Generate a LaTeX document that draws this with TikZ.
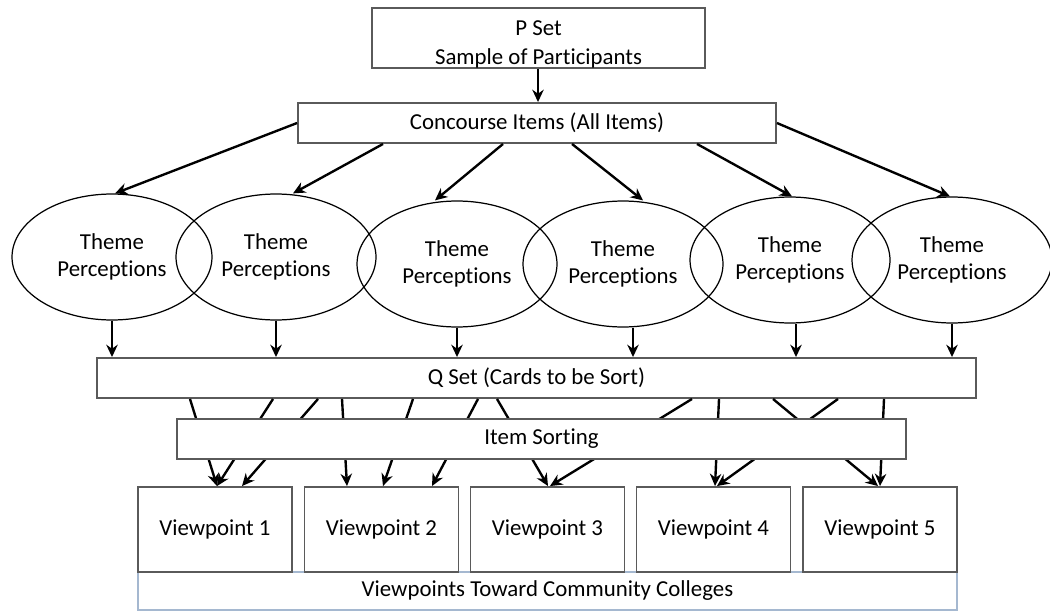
\documentclass[tikz,border=0pt]{standalone}
\usepackage{fontspec}
\setmainfont{Carlito}[Ligatures=NoCommon]
\usetikzlibrary{arrows.meta,shapes.geometric}
\definecolor{boxline}{RGB}{90,90,90}
\definecolor{baseline}{RGB}{165,184,208}
\begin{document}
\begin{tikzpicture}[x=0.02cm,y=-0.02cm,
        box/.style={draw=boxline,line width=1.1pt,fill=white,inner sep=0pt,
            font=\fontsize{13}{15.5}\selectfont,align=center},
        theme/.style={ellipse,draw=black,line width=0.7pt,inner sep=0pt,minimum width=4cm,
            minimum height=2.52cm,font=\fontsize{13}{15.5}\selectfont,align=center},
        arr/.style={-{Stealth[length=7pt,width=6.5pt]},line width=1.35pt}]
            \useasboundingbox (0,0) rectangle (1050,612);
            \node[box,minimum width=6.66cm,minimum height=1.2cm] (pset) at (538.5,38) {\rule{0pt}{13.8pt}P Set\\[1pt]\smash{Sample of Participants}};
            \node[box,minimum width=9.56cm,minimum height=0.8cm] (conc) at (537,123) {Concourse Items (All Items)};
            \draw[arr] (pset.south -| 538,0) -- (conc.north -| 538,0);
            \node[theme] (th1) at (112,257) {Theme\\Perceptions};
            \node[theme] (th2) at (276,257) {Theme\\Perceptions};
            \node[theme] (th3) at (457,264) {Theme\\Perceptions};
            \node[theme] (th4) at (623,264) {Theme\\Perceptions};
            \node[theme] (th5) at (790,260) {Theme\\Perceptions};
            \node[theme] (th6) at (952,260) {Theme\\Perceptions};
            \draw[arr] (conc.west) -- (th1.north -| 115,0);
            \draw[arr] (conc.south -| 383,0) -- (th2.north -| 293,0);
            \draw[arr] (conc.south -| 503,0) -- (th3.north -| 435,0);
            \draw[arr] (conc.south -| 572,0) -- (th4.north -| 643,0);
            \draw[arr] (conc.south -| 697,0) -- (th5.north -| 792,0);
            \draw[arr] (conc.east) -- (th6.north -| 950,0);
            \node[box,minimum width=17.58cm,minimum height=0.8cm] (qset) at (536.5,378) {Q Set (Cards to be Sort)};
            \draw[arr] (th1.south) -- (qset.north -| th1.south);
            \draw[arr] (th2.south) -- (qset.north -| th2.south);
            \draw[arr] (th3.south) -- (qset.north -| th3.south);
            \draw[arr] (th4.south -| 633,0) -- (qset.north -| 633,0);
            \draw[arr] (th5.south -| 796,0) -- (qset.north -| 796,0);
            \draw[arr] (th6.south) -- (qset.north -| th6.south);
            \node[box,draw=baseline,line width=0.8pt,minimum width=16.38cm,minimum height=0.76cm] (vpall) at (547.5,591) {Viewpoints Toward Community Colleges};
            \node[box,minimum width=3.08cm,minimum height=1.7cm] (vp1) at (215,529.5) {Viewpoint 1};
            \node[box,minimum width=3.08cm,minimum height=1.7cm] (vp2) at (381.5,529.5) {Viewpoint 2};
            \node[box,minimum width=3.08cm,minimum height=1.7cm] (vp3) at (547.5,529.5) {Viewpoint 3};
            \node[box,minimum width=3.08cm,minimum height=1.7cm] (vp4) at (713.5,529.5) {Viewpoint 4};
            \node[box,minimum width=3.08cm,minimum height=1.7cm] (vp5) at (880,529.5) {Viewpoint 5};
            \draw[arr] (qset.south -| 190,0) -- (vp1.north -| 217,0);
            \draw[arr] (qset.south -| 273,0) -- (vp1.north -| 217,0);
            \draw[arr] (qset.south -| 318,0) -- (vp1.north -| 242,0);
            \draw[arr] (qset.south -| 342,0) -- (vp2.north -| 347,0);
            \draw[arr] (qset.south -| 413,0) -- (vp2.north -| 383,0);
            \draw[arr] (qset.south -| 478,0) -- (vp2.north -| 432,0);
            \draw[arr] (qset.south -| 497,0) -- (vp3.north -| 548,0);
            \draw[arr] (qset.south -| 692,0) -- (vp3.north -| 550,0);
            \draw[arr] (qset.south -| 719,0) -- (vp4.north -| 715,0);
            \draw[arr] (qset.south -| 838,0) -- (vp4.north -| 717,0);
            \draw[arr] (qset.south -| 773,0) -- (vp5.north -| 878,0);
            \draw[arr] (qset.south -| 884,0) -- (vp5.north -| 880,0);
            \node[box,minimum width=14.58cm,minimum height=0.8cm] (sort) at (541.5,439) {Item Sorting};
        \end{tikzpicture}
\end{document}
